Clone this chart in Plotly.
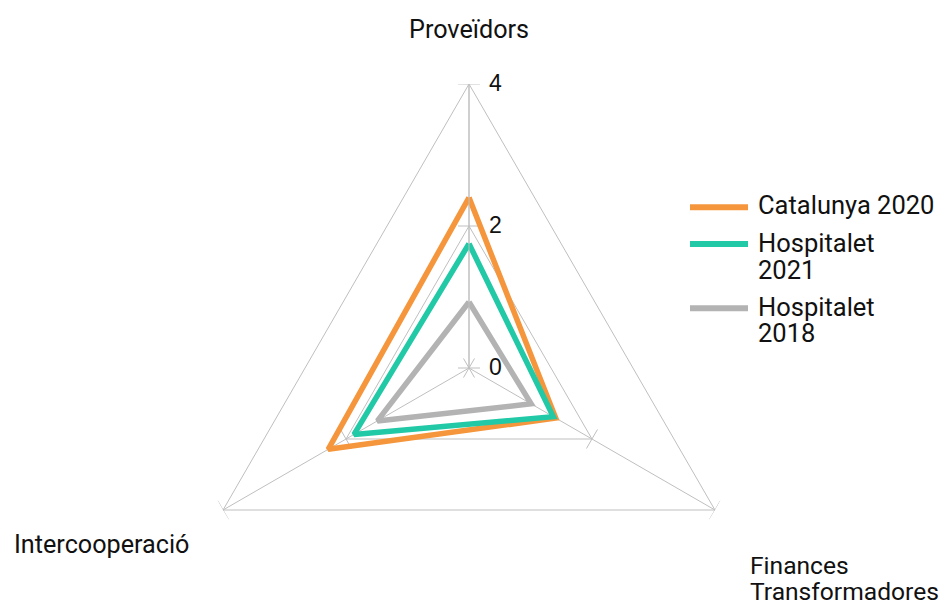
import math
import plotly.graph_objects as go

categories = ["Proveïdors", "Finances<br>Transformadores", "Intercooperació"]
series_names = ["Catalunya 2020", "Hospitalet<br>2021", "Hospitalet<br>2018"]
catalunya_2020 = [2.40, 1.41, 2.29]
hospitalet_2021 = [1.75, 1.37, 1.87]
hospitalet_2018 = [0.93, 1.01, 1.49]
series_colors = ["#F5963C", "#22C9A6", "#B3B3B3"]
radial_ticks = [0, 2, 4]
radial_range = [0, 4]

W, H = 940, 660
cx, cy, R = 461, 360, 284
dom_x = [(cx - R) / W, (cx + R) / W]
dom_y = [(H - (cy + R)) / H, (H - (cy - R)) / H]
FONT = "Roboto"
FS = 25.5
GRID = "#BFBFBF"


def px(x):
    return x / W


def py(y):
    return 1 - y / H


fig = go.Figure()

# cross tick marks on every axis (helper polar with a linear angular axis, same scale)
n = len(categories)
half = 0.155
tr, tt = [], []
for i in range(n):
    th = 90 - 360 * i / n
    for r in radial_ticks:
        if r == 0:
            pts = [(half, th + 90), (half, th - 90)]
        else:
            rr = math.hypot(r, half)
            dth = math.degrees(math.atan2(half, r))
            pts = [(rr, th + dth), (rr, th - dth)]
        for p in pts:
            tr.append(p[0]); tt.append(p[1])
        tr.append(None); tt.append(None)
fig.add_trace(go.Scatterpolar(r=tr, theta=tt, mode="lines", subplot="polar",
                              line=dict(color=GRID, width=1), showlegend=False,
                              hoverinfo="skip", connectgaps=False))

for name, vals, col in zip(series_names, [catalunya_2020, hospitalet_2021, hospitalet_2018], series_colors):
    fig.add_trace(go.Scatterpolar(r=vals + vals[:1], theta=categories + categories[:1],
                                  mode="lines", name=name, subplot="polar2", showlegend=False,
                                  line=dict(color=col, width=5.5)))

annotations = []
shapes = []

# category labels (one annotation per text line)
cat_pos = [
    dict(x=cx, ys=[21], xanchor="center", size=25.2),
    dict(x=740, ys=[557, 583], xanchor="left", size=24.6),
    dict(x=4, ys=[536], xanchor="left", size=25.2),
]
for cat, pos in zip(categories, cat_pos):
    for line, yy in zip(cat.split("<br>"), pos["ys"]):
        annotations.append(dict(text=line, x=px(pos["x"]), y=py(yy), xref="paper", yref="paper",
                                xanchor=pos["xanchor"], yanchor="middle", showarrow=False,
                                font=dict(family=FONT, size=pos["size"], color="#111111")))

# legend
leg_line_y = [199.3, 236, 300.3]
leg_text_y = [[197], [235.3, 262], [298.7, 324.5]]
for name, col, ly, tys in zip(series_names, series_colors, leg_line_y, leg_text_y):
    shapes.append(dict(type="line", xref="paper", yref="paper", x0=px(682), x1=px(740),
                       y0=py(ly), y1=py(ly), line=dict(color=col, width=6)))
    for line, yy in zip(name.split("<br>"), tys):
        annotations.append(dict(text=line, x=px(747.5), y=py(yy), xref="paper", yref="paper",
                                xanchor="left", yanchor="middle", showarrow=False,
                                font=dict(family=FONT, size=FS, color="#111111")))

fig.update_layout(
    width=W, height=H,
    margin=dict(l=0, r=0, t=0, b=0),
    paper_bgcolor="white",
    showlegend=False,
    font=dict(family=FONT, size=FS, color="#111111"),
    polar=dict(
        domain=dict(x=dom_x, y=dom_y),
        bgcolor="rgba(0,0,0,0)",
        radialaxis=dict(range=radial_range, visible=False),
        angularaxis=dict(visible=False, rotation=0, direction="counterclockwise"),
    ),
    polar2=dict(
        domain=dict(x=dom_x, y=dom_y),
        bgcolor="rgba(0,0,0,0)",
        gridshape="linear",
        radialaxis=dict(range=radial_range, tickvals=radial_ticks, angle=90, tickangle=90,
                        showline=True, linecolor=GRID, linewidth=1,
                        gridcolor=GRID, gridwidth=1,
                        ticks="outside", ticklen=15, tickcolor="rgba(0,0,0,0)",
                        tickfont=dict(family="Liberation Sans", size=23, color="#111111")),
        angularaxis=dict(type="category", categoryarray=categories, rotation=90,
                         direction="clockwise", showticklabels=False, ticks="",
                         showline=True, linecolor=GRID, linewidth=1,
                         gridcolor=GRID, gridwidth=1),
    ),
    annotations=annotations,
    shapes=shapes,
)

fig.write_html("out.html")
